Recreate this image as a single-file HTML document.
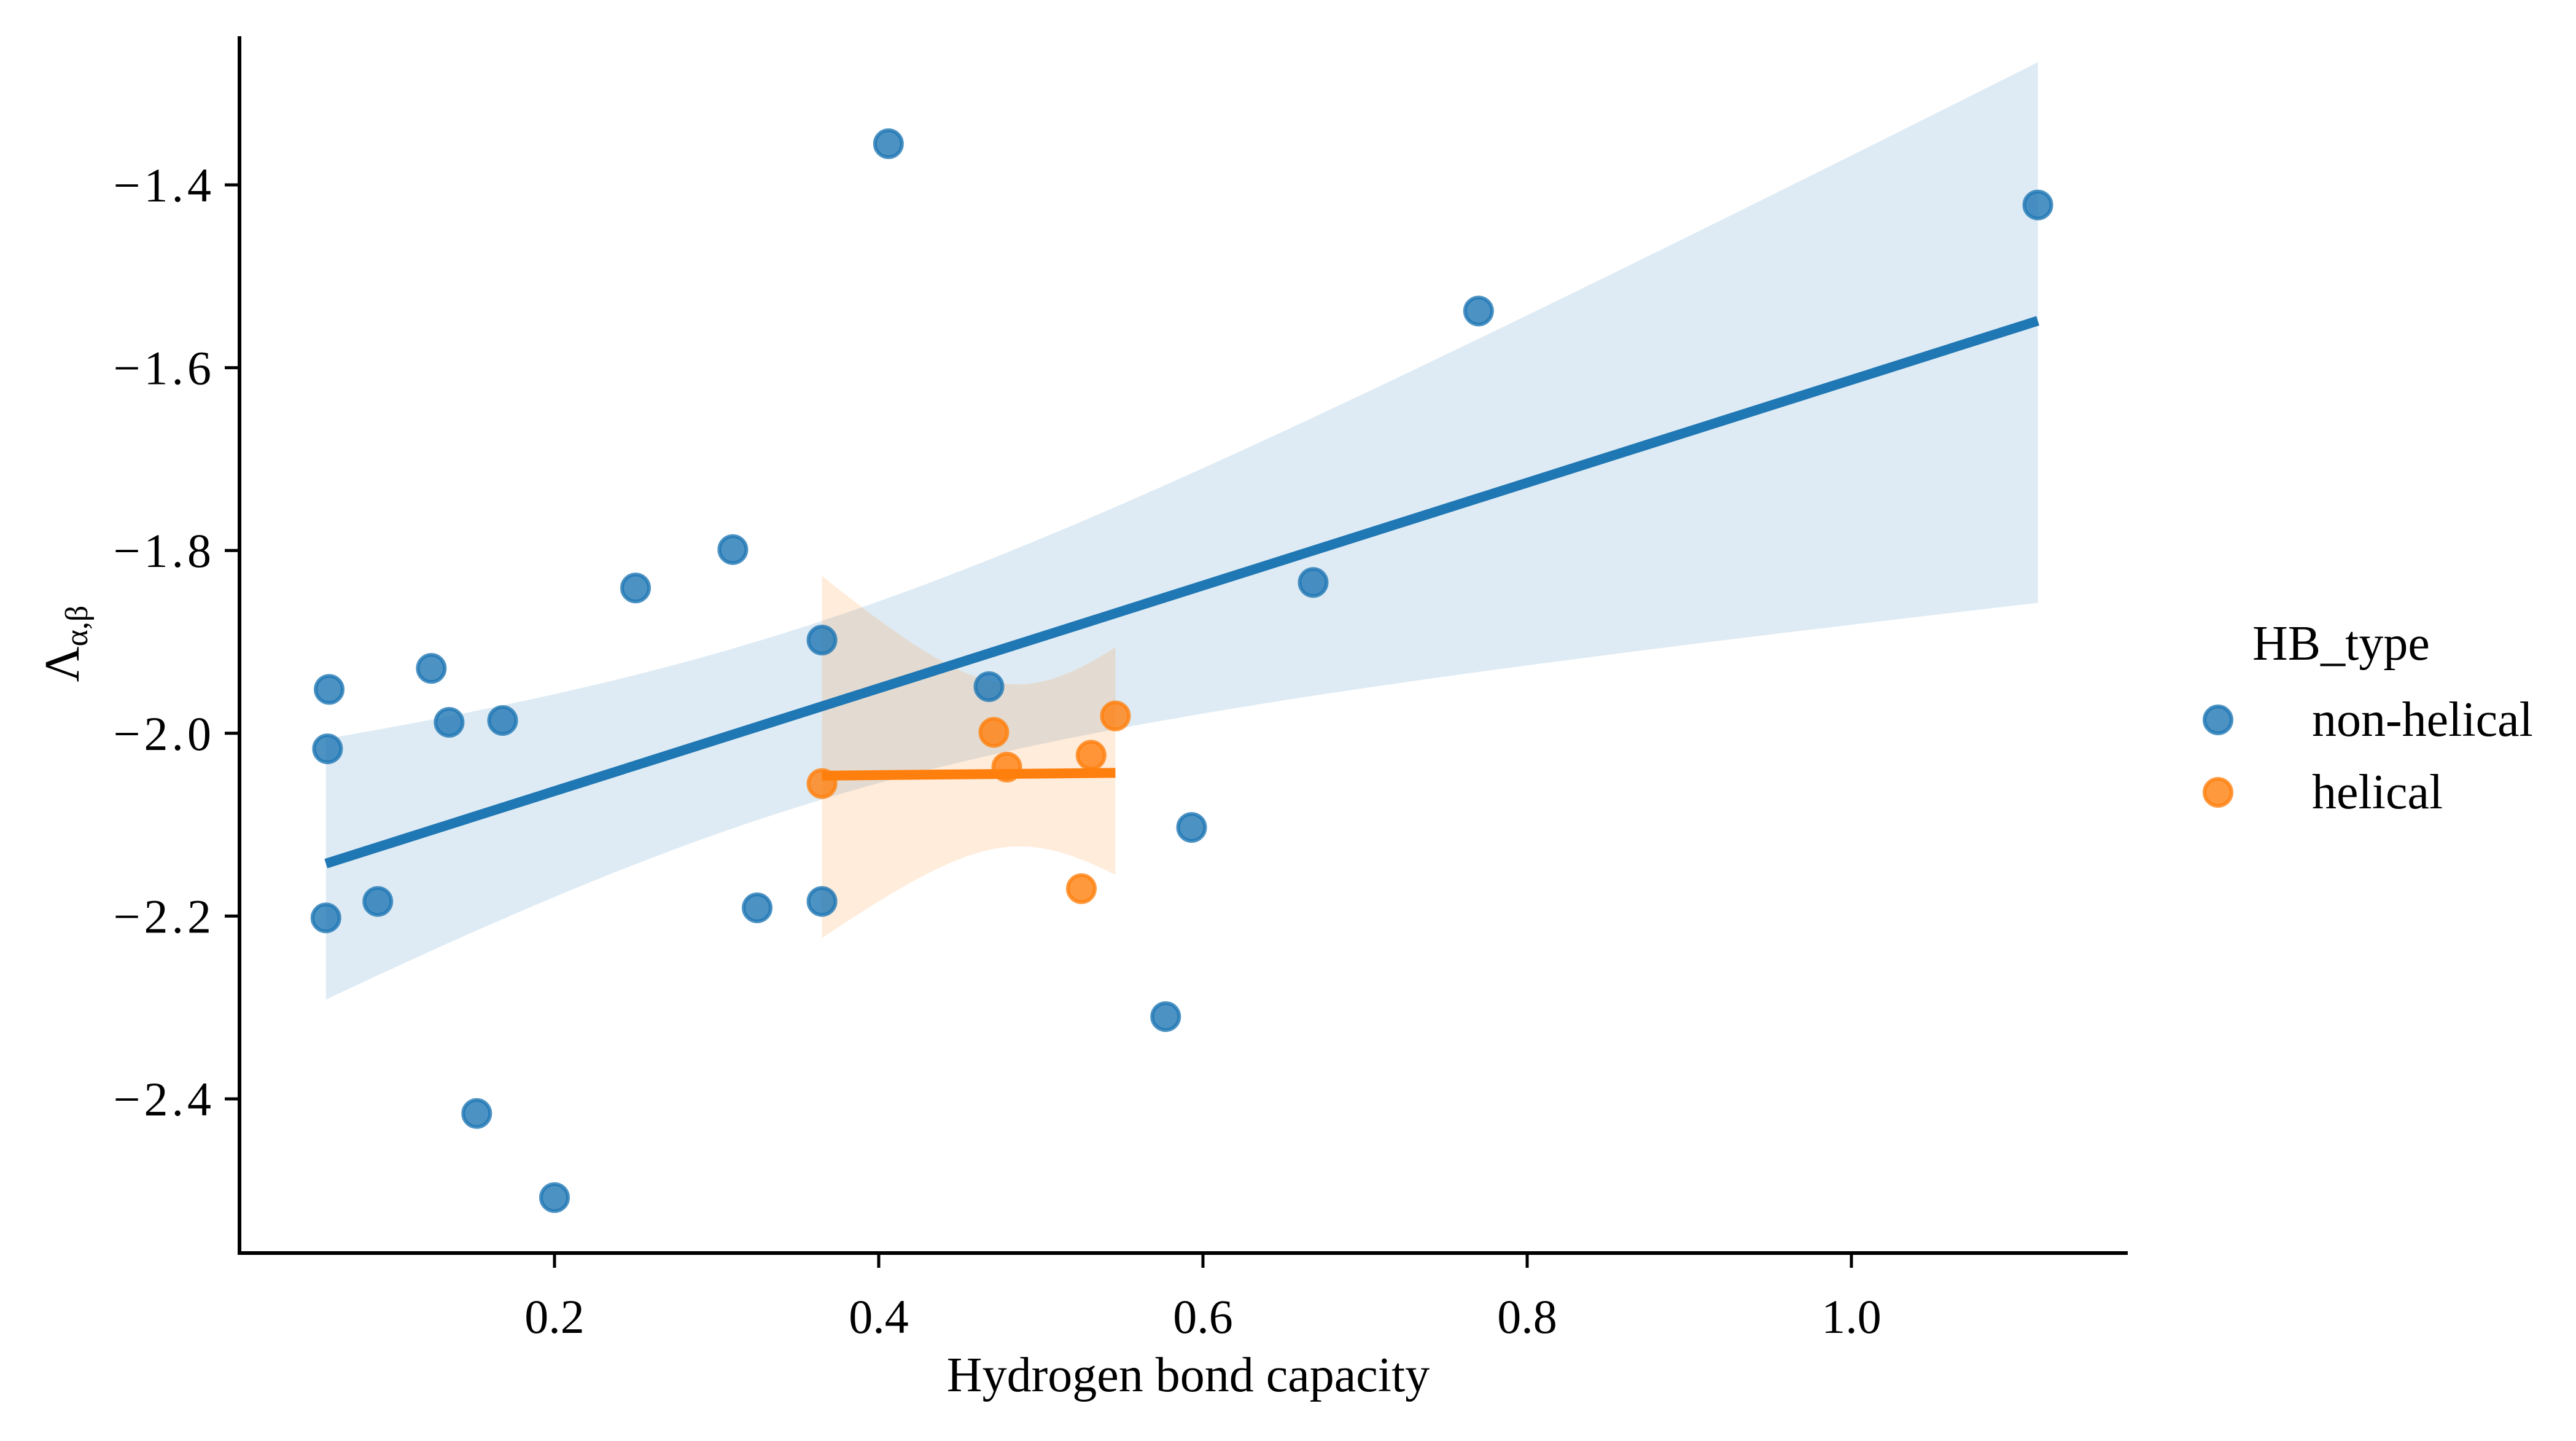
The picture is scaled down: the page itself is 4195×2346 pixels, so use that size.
<!DOCTYPE html>
<html><head><meta charset="utf-8"><style>
html,body{margin:0;padding:0;background:#fff;}
svg text{font-family:"Liberation Serif","DejaVu Serif",serif;fill:#000;}
</style></head><body>
<svg id="chart" width="4195" height="2341" viewBox="0 0 4195 2341" xmlns="http://www.w3.org/2000/svg">
<g id="bands"></g>
<g id="lines"></g>
<g id="points"></g>
<g id="axes"></g>
<g id="legend"></g>
</svg>
<script>
const nonHelicalX = [0.406,1.115,0.770,0.310,0.250,0.668,0.365,0.468,0.061,0.124,0.135,0.168,0.060,0.593,0.059,0.091,0.325,0.365,0.577,0.152,0.200];
const nonHelicalY = [-1.355,-1.422,-1.538,-1.799,-1.841,-1.835,-1.898,-1.949,-1.952,-1.929,-1.988,-1.986,-2.017,-2.103,-2.202,-2.184,-2.191,-2.184,-2.310,-2.416,-2.508];
const helicalX = [0.365,0.471,0.479,0.531,0.546,0.525];
const helicalY = [-2.055,-1.999,-2.037,-2.024,-1.981,-2.170];
const xTicks = [0.2,0.4,0.6,0.8,1.0];
const xTickLabels = ["0.2","0.4","0.6","0.8","1.0"];
const yTicks = [-1.4,-1.6,-1.8,-2.0,-2.2,-2.4];
const yTickLabels = ["\u22121.4","\u22121.6","\u22121.8","\u22122.0","\u22122.2","\u22122.4"];
const seriesNames = ["non-helical","helical"];

const NS="http://www.w3.org/2000/svg";
const X0=390,X1=3465,Y0=59,Y1=2040;
function sx(v){return 375+v*2640;}
function sy(v){return 301+(-1.4-v)*1488;}
function mk(tag,attrs,parent){const e=document.createElementNS(NS,tag);for(const k in attrs)e.setAttribute(k,attrs[k]);parent.appendChild(e);return e;}
const bands=document.getElementById('bands'),lines=document.getElementById('lines'),pts=document.getElementById('points'),axes=document.getElementById('axes'),legend=document.getElementById('legend');

function fit(xs,ys,tUp,tLo,color,name){
  const n=xs.length;let mx=0,my=0;for(let i=0;i<n;i++){mx+=xs[i];my+=ys[i];}mx/=n;my/=n;
  let sxx=0,sxy=0;for(let i=0;i<n;i++){sxx+=(xs[i]-mx)**2;sxy+=(xs[i]-mx)*(ys[i]-my);}
  const b=sxy/sxx,a=my-b*mx;let sse=0;for(let i=0;i<n;i++)sse+=(ys[i]-a-b*xs[i])**2;
  const s=Math.sqrt(sse/(n-2));
  const xmin=Math.min(...xs),xmax=Math.max(...xs);
  const up=[],lo=[];
  for(let k=0;k<=60;k++){const x=xmin+(xmax-xmin)*k/60;const yh=a+b*x;const se=s*Math.sqrt(1/n+(x-mx)**2/sxx);
    up.push(sx(x).toFixed(1)+','+sy(yh+tUp*se).toFixed(1));lo.unshift(sx(x).toFixed(1)+','+sy(yh-tLo*se).toFixed(1));}
  const band=mk('polygon',{points:up.concat(lo).join(' '),fill:color,'fill-opacity':0.15},bands);
  
  
  const ln=mk('line',{x1:sx(xmin),y1:sy(a+b*xmin),x2:sx(xmax),y2:sy(a+b*xmax),stroke:color,'stroke-width':16},lines);
  
  
}
fit(nonHelicalX,nonHelicalY,1.65,1.8,'#1f77b4','non-helical');
fit(helicalX,helicalY,3.2,2.6,'#ff7f0e','helical');

function scatter(xs,ys,color,name){
  for(let i=0;i<xs.length;i++){
    const c=mk('circle',{cx:sx(xs[i]),cy:sy(ys[i]),r:22,fill:color,'fill-opacity':0.8,stroke:color,'stroke-opacity':0.8,'stroke-width':6},pts);
    
    
  }
}
scatter(nonHelicalX,nonHelicalY,'#1f77b4','non-helical');
scatter(helicalX,helicalY,'#ff7f0e','helical');

const ya=mk('line',{x1:X0,y1:Y0,x2:X0,y2:Y1+3,stroke:'#000','stroke-width':6},axes);


const xa=mk('line',{x1:X0-3,y1:Y1,x2:X1,y2:Y1,stroke:'#000','stroke-width':6},axes);


for(let i=0;i<xTicks.length;i++){
  const x=sx(xTicks[i]);
  const t=mk('line',{x1:x,y1:Y1,x2:x,y2:Y1+24,stroke:'#000','stroke-width':5},axes);
  
  
  const tl=mk('text',{x:x,y:Y1+130,'text-anchor':'middle','font-size':78},axes);
  tl.textContent=xTickLabels[i];
  
  
}
for(let i=0;i<yTicks.length;i++){
  const y=sy(yTicks[i]);
  const t=mk('line',{x1:X0-24,y1:y,x2:X0,y2:y,stroke:'#000','stroke-width':5},axes);
  
  
  const tl=mk('text',{x:X0-40,y:y+27,'text-anchor':'end','font-size':78,'letter-spacing':6},axes);
  tl.textContent=yTickLabels[i];
  
  
}
const xl=mk('text',{x:1935,y:2265,'text-anchor':'middle','font-size':80},axes);
xl.textContent='Hydrogen bond capacity';


const yl=mk('text',{x:0,y:0,'text-anchor':'middle','font-size':80,transform:'translate(128,1048) rotate(-90)'},axes);


yl.textContent='\u039B';
const sub=mk('tspan',{'font-size':52,dy:14},yl);
sub.textContent='\u03B1,\u03B2';

const lt=mk('text',{x:3668,y:1074,'font-size':80},legend);
lt.textContent='HB_type';


const lcolors=['#1f77b4','#ff7f0e'];const lys=[1172,1290];
for(let i=0;i<2;i++){
  const c=mk('circle',{cx:3612,cy:lys[i],r:22,fill:lcolors[i],'fill-opacity':0.8,stroke:lcolors[i],'stroke-opacity':0.8,'stroke-width':6},legend);
  
  
  const t=mk('text',{x:3765,y:lys[i]+26,'font-size':80},legend);
  t.textContent=seriesNames[i];
  
  
}
</script>
</body></html>
